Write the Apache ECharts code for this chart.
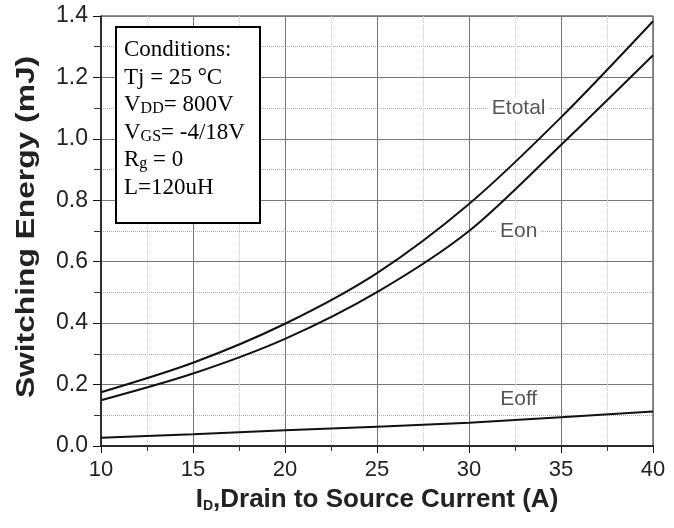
<!DOCTYPE html>
<html>
<head>
    <meta charset="utf-8">
    <title>ECharts</title>
    <script src="https://cdn.jsdelivr.net/npm/echarts@6/dist/echarts.min.js"></script>
</head>
<body style="margin:0;background:#fff;">
<div id="main" style="width: 674px;height:528px;"></div>
<script type="text/javascript">
    // drain current (A)
    var current = [10, 15, 20, 25, 30, 35, 40];
    // switching energy (mJ)
    var eTotal = [0.175, 0.271, 0.398, 0.563, 0.788, 1.070, 1.383];
    var eOn = [0.149, 0.236, 0.349, 0.501, 0.700, 0.980, 1.272];
    var eOff = [0.027, 0.038, 0.051, 0.063, 0.076, 0.094, 0.112];
    var yTicks = [0, 0.2, 0.4, 0.6, 0.8, 1.0, 1.2, 1.4];
    // curve name tags: [x, y, text]
    var tags = [[32.7, 1.10, 'Etotal'], [32.7, 0.70, 'Eon'], [32.7, 0.152, 'Eoff']];
    var conditions = ['Conditions:', 'Tj = 25 \u00b0C', 'V{s|DD}= 800V', 'V{s|GS}= -4/18V', 'R{g|g} = 0', 'L=120uH'];

    function pairs(ys) {
        return current.map(function (x, i) { return [x, ys[i]]; });
    }

    var myChart = echarts.init(document.getElementById('main'));

    var sans = 'Liberation Sans';
    var serif = 'Liberation Serif';

    var lineSeries = function (name, ys) {
        return {
            name: name,
            type: 'line',
            data: pairs(ys),
            smooth: 0.3,
            symbol: 'none',
            lineStyle: { color: '#111', width: 2 },
            z: 5
        };
    };

    var condGraphics = [{
        type: 'rect',
        shape: { x: 116, y: 27, width: 144, height: 196 },
        style: { fill: '#fff', stroke: '#000', lineWidth: 2 },
        z: 10
    }];
    conditions.forEach(function (t, i) {
        condGraphics.push({
            type: 'text',
            x: 124,
            y: 50 + i * 27.6,
            z: 11,
            style: {
                text: t,
                fontFamily: serif,
                fontSize: 23,
                fill: '#000',
                verticalAlign: 'middle',
                textVerticalAlign: 'middle',
                rich: {
                    s: { fontFamily: serif, fontSize: 16, verticalAlign: 'bottom', fill: '#000' },
                    g: { fontFamily: serif, fontSize: 16, verticalAlign: 'bottom', padding: [6, 0, 0, 0], fill: '#000' }
                }
            }
        });
    });

    var option = {
        animation: false,
        grid: {
            left: 101, right: 21, top: 16, bottom: 82,
            show: true, borderColor: '#222', borderWidth: 1
        },
        xAxis: {
            type: 'value',
            min: 10, max: 40, interval: 5,
            axisLine: { lineStyle: { color: '#111', width: 1.5 } },
            axisTick: { show: true, length: 7, lineStyle: { color: '#111' } },
            minorTick: { show: true, splitNumber: 2, length: 5, lineStyle: { color: '#333' } },
            axisLabel: { fontFamily: sans, fontSize: 22, color: '#222', margin: 13 },
            splitLine: { show: true, lineStyle: { color: '#777', width: 1 } },
            minorSplitLine: { show: true, lineStyle: { color: '#ccc', type: 'dotted', width: 1 } }
        },
        yAxis: {
            type: 'value',
            min: 0, max: 1.4, interval: 0.2,
            axisLine: { show: true, lineStyle: { color: '#111', width: 1.5 } },
            axisTick: { show: true, length: 8, lineStyle: { color: '#111' } },
            minorTick: { show: true, splitNumber: 2, length: 7, lineStyle: { color: '#333' } },
            axisLabel: {
                fontFamily: sans, fontSize: 23, color: '#222', margin: 13,
                formatter: function (v) { return v.toFixed(1); }
            },
            splitLine: { show: true, lineStyle: { color: '#777', width: 1 } },
            minorSplitLine: { show: true, lineStyle: { color: '#aaa', type: 'dotted', width: 1 } }
        },
        series: [
            lineSeries('Etotal', eTotal),
            lineSeries('Eon', eOn),
            lineSeries('Eoff', eOff),
            {
                name: 'tags',
                type: 'scatter',
                symbolSize: 0,
                data: tags.map(function (t) { return { value: [t[0], t[1]], name: t[2] }; }),
                label: {
                    show: true,
                    position: 'inside',
                    formatter: '{b}',
                    fontFamily: sans,
                    fontSize: 21,
                    color: '#2a2a2a',
                    backgroundColor: '#fff',
                    padding: [1, 4]
                },
                z: 6
            }
        ],
        graphic: condGraphics.concat([
            {
                type: 'text',
                x: 27, y: 227,
                rotation: Math.PI / 2,
                scaleX: 1.27,
                style: {
                    text: 'Switching Energy (mJ)',
                    fontFamily: sans, fontWeight: 'bold', fontSize: 25, fill: '#222',
                    align: 'center', verticalAlign: 'middle',
                    textAlign: 'center', textVerticalAlign: 'middle'
                }
            },
            {
                type: 'text',
                x: 377, y: 500,
                style: {
                    text: 'I{d|D},Drain to Source Current (A)',
                    fontFamily: sans, fontWeight: 'bold', fontSize: 26, fill: '#222',
                    align: 'center', verticalAlign: 'middle',
                    textAlign: 'center', textVerticalAlign: 'middle',
                    rich: {
                        d: { fontFamily: sans, fontWeight: 'bold', fontSize: 14, fill: '#222', verticalAlign: 'bottom', padding: [12, 0, 0, 0] }
                    }
                }
            }
        ])
    };

    myChart.setOption(option);
</script>
</body>
</html>
